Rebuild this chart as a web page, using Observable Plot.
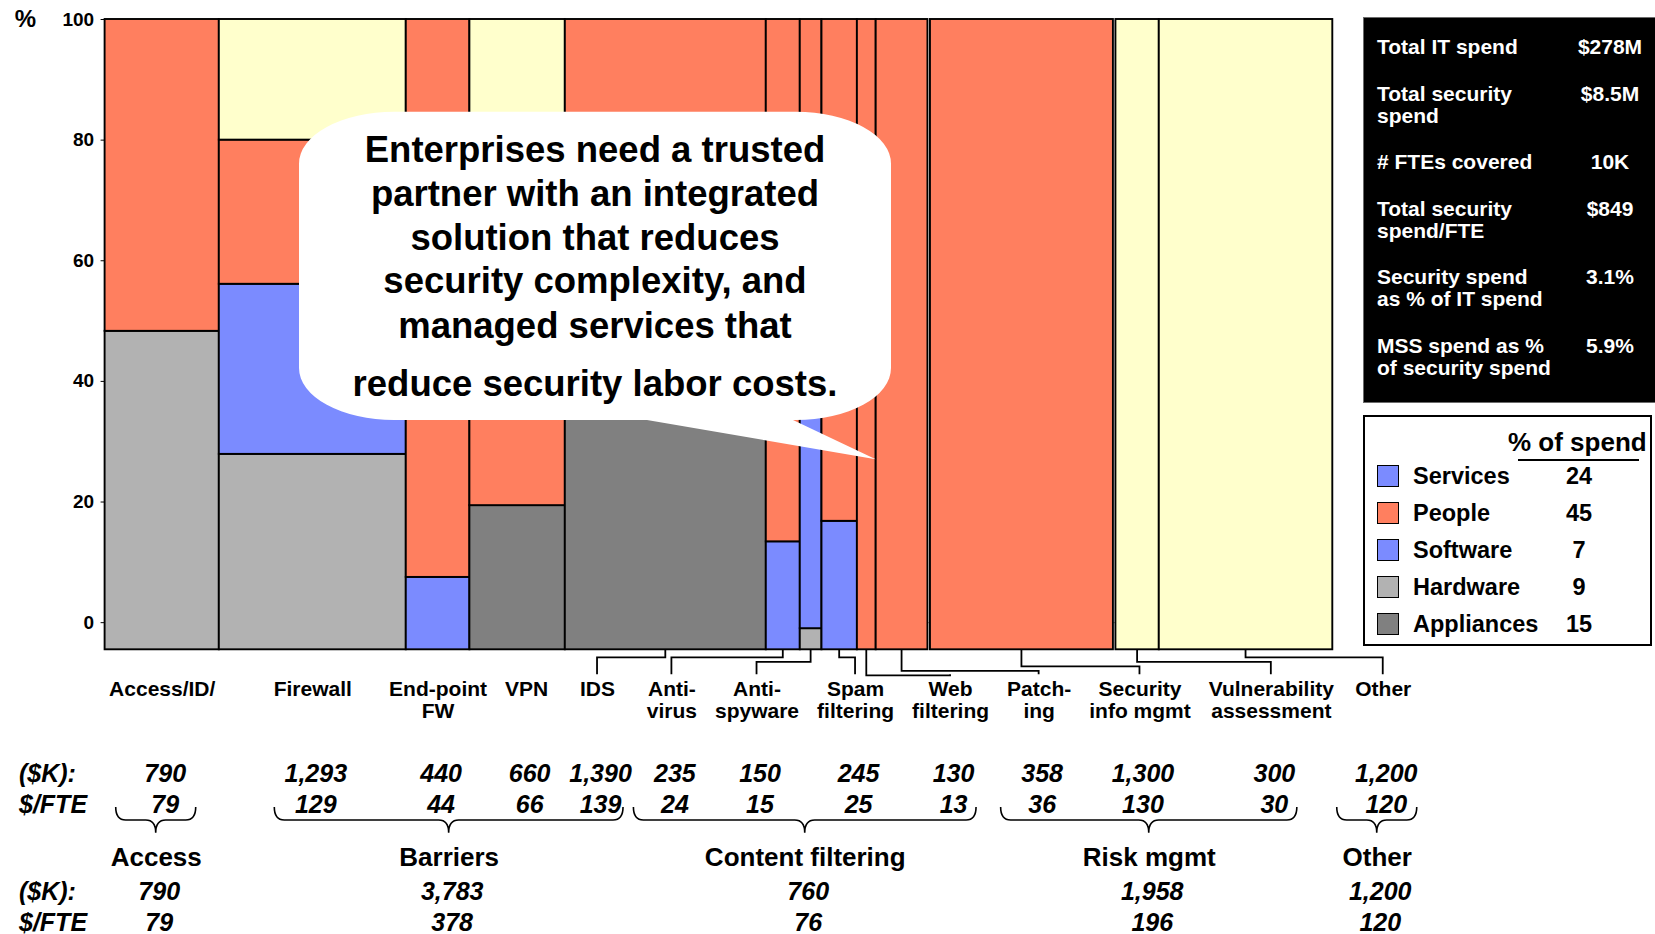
<!DOCTYPE html>
<html>
<head>
<meta charset="utf-8">
<script src="https://cdn.jsdelivr.net/npm/d3@7"></script>
<script src="https://cdn.jsdelivr.net/npm/@observablehq/plot@0.6"></script>
<style>
html, body { margin:0; padding:0; background:#fff; }
body { width:1655px; height:934px; overflow:hidden; font-family:"Liberation Sans", Arial, Helvetica, sans-serif; }
#wrap { position:relative; width:1655px; height:934px; }
#chart svg { display:block; }
#info { position:absolute; left:1363px; top:17px; width:293px; height:386px; background:#000; border:1px solid #6b6b6b; box-sizing:border-box; color:#fff; font-weight:bold; font-size:21px; padding-top:18.4px; }
#info .row { position:relative; line-height:22px; margin-bottom:24.5px; padding-left:13px; white-space:pre-line; }
#info .val { position:absolute; top:0; left:206px; width:80px; text-align:center; white-space:nowrap; }
#legend { position:absolute; left:1363px; top:415px; width:289px; height:231px; border:2px solid #000; box-sizing:border-box; background:#fff; font-weight:bold; color:#000; }
#legend .head { position:absolute; left:143px; top:10px; font-size:26px; line-height:30px; white-space:nowrap; }
#legend .rule { position:absolute; left:153px; top:42px; width:121px; height:2px; background:#000; }
#legend .items { position:absolute; left:0; top:41.4px; }
#legend .item { position:relative; height:37px; line-height:37px; font-size:23.5px; width:285px; }
#legend .sw { position:absolute; left:12px; top:7px; width:22px; height:22px; border:1.5px solid #000; box-sizing:border-box; }
#legend .nm { position:absolute; left:48px; top:0; }
#legend .pc { position:absolute; left:189px; width:50px; text-align:center; top:0; }
</style>
</head>
<body>
<div id="wrap">
  <div id="chart"></div>
  <div id="info"></div>
  <div id="legend"></div>
</div>
<script>
// ---------------- DATA ----------------
const categories = ["Access/ID/", "Firewall", "End-point\nFW", "VPN", "IDS", "Anti-\nvirus", "Anti-\nspyware",
  "Spam\nfiltering", "Web\nfiltering", "Patch-\ning", "Security\ninfo mgmt", "Vulnerability\nassessment", "Other"];
const groupOf = ["Access", "Barriers", "Barriers", "Barriers", "Barriers", "Content filtering", "Content filtering",
  "Content filtering", "Content filtering", "Risk mgmt", "Risk mgmt", "Risk mgmt", "Other"];
const spendK = [790, 1293, 440, 660, 1390, 235, 150, 245, 130, 358, 1300, 300, 1200];
const spendPerFTE = [79, 129, 44, 66, 139, 24, 15, 25, 13, 36, 130, 30, 120];

const groups = ["Access", "Barriers", "Content filtering", "Risk mgmt", "Other"];
const groupSpendK = [790, 3783, 760, 1958, 1200];
const groupPerFTE = [79, 378, 76, 196, 120];

// upper edge of each segment as read on the % axis (null = no such segment), stacked bottom→top in this order
const segmentTypes = ["Appliances", "Hardware", "Software", "People", "Services"];
const appliancesTop = [null, null, null, 19.4, 80, null, null, null, null, null, null, null, null];
const hardwareTop   = [48.3, 27.9, null, null, null, null, -1.0, null, null, null, null, null, null];
const softwareTop   = [null, 56.1, 7.5, null, null, 13.4, 65, 16.8, null, null, null, null, null];
const peopleTop     = [100, 80, 100, 80, 100, 100, 100, 100, 100, 100, 100, null, null];
const servicesTop   = [null, 100, null, 100, null, null, null, null, null, null, null, 100, 100];
const axisFloor = -4.5;               // bars start a little below the "0" tick in the original
const yTicks = [0, 20, 40, 60, 80, 100];
const segmentColors = ["#808080", "#b2b2b2", "#7b8bff", "#ff7f5f", "#ffffcc"];

const legendNames = ["Services", "People", "Software", "Hardware", "Appliances"];
const legendShare = [24, 45, 7, 9, 15];
const legendColors = ["#7b8bff", "#ff7f5f", "#7b8bff", "#b2b2b2", "#808080"];

const infoLabels = ["Total IT spend", "Total security\nspend", "# FTEs covered", "Total security\nspend/FTE",
  "Security spend\nas % of IT spend", "MSS spend as %\nof security spend"];
const infoValues = ["$278M", "$8.5M", "10K", "$849", "3.1%", "5.9%"];

const calloutLines = ["Enterprises need a trusted", "partner with an integrated", "solution that reduces",
  "security complexity, and", "managed services that", "reduce security labor costs."];
const rowHeads = ["($K):", "$/FTE"];

// ---------------- LAYOUT ----------------
const W = 1655, H = 934;
const ML = 104.6, MR = W - 1332.3, MT = 19, MB = H - 649.3;
const FF = '"Liberation Sans", Arial, Helvetica, sans-serif';
const fmt = d3.format(",");
const anchoredLabelCount = 4;   // the first labels sit right under their columns; the rest are packed with leader lines
const detachedColumn = "Security\ninfo mgmt"; // drawn with a small white gap on both sides, as in the original

const total = d3.sum(spendK);
const colEnd = d3.cumsum(spendK);
const colStart = spendK.map((v, i) => colEnd[i] - v);
const tops = {Appliances: appliancesTop, Hardware: hardwareTop, Software: softwareTop, People: peopleTop, Services: servicesTop};

const segs = [];
categories.forEach((c, i) => {
  let base = axisFloor;
  segmentTypes.forEach(t => {
    const top = tops[t][i];
    if (top == null) return;
    segs.push({cat: c, type: t, x1: colStart[i], x2: colEnd[i], y1: base, y2: top});
    base = top;
  });
});

// label placement
const xPx = d3.scaleLinear([0, total], [ML, W - MR]);
const ctx = document.createElement("canvas").getContext("2d");
function tw(text, font) { ctx.font = font; return ctx.measureText(text).width; }
const halfW = categories.map((c, i) => {
  const wl = d3.max(c.split("\n"), l => tw(l, `bold 21px ${FF}`));
  const wn = tw(fmt(spendK[i]), `italic bold 25px ${FF}`);
  return Math.max(wl, wn) / 2;
});
const centersPx = categories.map((c, i) => xPx((colStart[i] + colEnd[i]) / 2));
const GAP = 18;
const labelPx = [];
centersPx.forEach((c, i) => {
  const packed = i ? labelPx[i - 1] + halfW[i - 1] + halfW[i] + GAP : c;
  labelPx.push(i < anchoredLabelCount ? Math.max(c, packed) : packed);
});

const rows = categories.map((c, i) => {
  const [l1, l2 = ""] = c.split("\n");
  return {cat: c, lx: xPx.invert(labelPx[i]), l1, l2, k: fmt(spendK[i]), fte: String(spendPerFTE[i])};
});
const groupRows = groups.map((g, j) => {
  const idx = d3.range(categories.length).filter(i => groupOf[i] === g);
  let a = d3.min(idx, i => labelPx[i]) - 38, b = d3.max(idx, i => labelPx[i]) + 26;
  if (b - a < 80) { const m = (a + b) / 2; a = m - 40; b = m + 40; }
  return {g, a: xPx.invert(a), b: xPx.invert(b), m: xPx.invert((a + b) / 2), k: fmt(groupSpendK[j]), fte: String(groupPerFTE[j])};
});

// ---------------- PLOT ----------------
const hasAxisMarks = typeof Plot.axisY === "function";
const bold = {fontWeight: "bold"};
const below = {frameAnchor: "bottom", lineAnchor: "top"};
const italicNum = {fontSize: 25, fontWeight: "bold", fontStyle: "italic"};
const rectOpts = {x1: "x1", x2: "x2", y1: "y1", y2: "y2", fill: "type", stroke: "black", strokeWidth: 1.9};

const marks = [
  Plot.ruleY([0], {stroke: "#9a9a9a", strokeWidth: 1}),
  Plot.rect(segs.filter(d => d.cat !== detachedColumn), rectOpts),
  Plot.rect(segs.filter(d => d.cat === detachedColumn), {...rectOpts, insetLeft: 2.5, insetRight: 2.5}),
  Plot.text(["%"], {frameAnchor: "top-left", dx: 25 - ML, fontSize: 24, ...bold, textAnchor: "middle", lineAnchor: "middle"}),
  Plot.text(rows, {...below, x: "lx", text: "l1", dy: 30.8, fontSize: 21, ...bold}),
  Plot.text(rows.filter(d => d.l2), {...below, x: "lx", text: "l2", dy: 52.8, fontSize: 21, ...bold}),
  Plot.text(rows, {...below, x: "lx", text: "k", dx: 3, dy: 114.7, ...italicNum}),
  Plot.text(rows, {...below, x: "lx", text: "fte", dx: 3, dy: 145.6, ...italicNum}),
  Plot.text([rowHeads[0]], {frameAnchor: "bottom-left", lineAnchor: "top", textAnchor: "start", dx: 18.5 - ML, dy: 114.7, ...italicNum}),
  Plot.text([rowHeads[1]], {frameAnchor: "bottom-left", lineAnchor: "top", textAnchor: "start", dx: 18.5 - ML, dy: 145.6, ...italicNum}),
  Plot.text(groupRows, {...below, x: "m", text: "g", dy: 198.2, fontSize: 26, ...bold}),
  Plot.text(groupRows, {...below, x: "m", text: "k", dx: 3, dy: 232.6, ...italicNum}),
  Plot.text(groupRows, {...below, x: "m", text: "fte", dx: 3, dy: 263.4, ...italicNum}),
  Plot.text([rowHeads[0]], {frameAnchor: "bottom-left", lineAnchor: "top", textAnchor: "start", dx: 18.5 - ML, dy: 232.6, ...italicNum}),
  Plot.text([rowHeads[1]], {frameAnchor: "bottom-left", lineAnchor: "top", textAnchor: "start", dx: 18.5 - ML, dy: 263.4, ...italicNum})
];
if (hasAxisMarks) marks.push(Plot.axisY(yTicks, {tickSize: 4, tickPadding: 7, fontSize: 19, fontWeight: "bold", label: null}));

const plot = Plot.plot({
  width: W, height: H,
  marginLeft: ML, marginRight: MR, marginTop: MT, marginBottom: MB,
  style: {fontFamily: FF, fontSize: "19px", fontWeight: "bold", background: "transparent", overflow: "visible"},
  x: {domain: [0, total], axis: null},
  y: hasAxisMarks ? {domain: [axisFloor, 100]} : {domain: [axisFloor, 100], ticks: yTicks, tickSize: 4, tickPadding: 7, label: null},
  color: {domain: segmentTypes, range: segmentColors},
  marks
});
document.getElementById("chart").appendChild(plot);

// ---------- leader lines, braces and callout drawn with the plot's own scales ----------
const svg = d3.select(plot);
const sx = plot.scale("x"), sy = plot.scale("y");
const X = d3.scaleLinear(sx.domain, sx.range), Y = d3.scaleLinear(sy.domain, sy.range);
const bottom = Y(axisFloor);

const conn = [];
categories.forEach((c, i) => {
  if (i < anchoredLabelCount) return;
  conn.push({i, cx: X((colStart[i] + colEnd[i]) / 2), lx: X(rows[i].lx)});
});
function assignLevels(list) {
  const placed = [];
  list.forEach(d => {
    const lo = Math.min(d.cx, d.lx), hi = Math.max(d.cx, d.lx);
    const over = placed.filter(p => p.lo < hi + 3 && lo < p.hi + 3);
    d.lev = over.length ? d3.max(over, p => p.lev) + 1 : 0;
    placed.push({lo, hi, lev: d.lev});
  });
}
assignLevels(conn.filter(d => d.lx < d.cx).sort((a, b) => a.cx - b.cx));
assignLevels(conn.filter(d => d.lx >= d.cx).sort((a, b) => b.cx - a.cx));
svg.append("g").attr("fill", "none").attr("stroke", "black").attr("stroke-width", 1.8)
  .selectAll("path").data(conn).join("path")
  .attr("d", d => {
    const yh = bottom + 8 + 4.5 * d.lev;
    return Math.abs(d.lx - d.cx) < 3 ? `M${d.cx},${bottom}V${bottom + 25}` : `M${d.cx},${bottom}V${yh}H${d.lx}V${bottom + 25}`;
  });

svg.append("g").attr("fill", "none").attr("stroke", "black").attr("stroke-width", 1.6)
  .selectAll("path").data(groupRows).join("path")
  .attr("d", g => {
    const a = X(g.a), b = X(g.b), m = X(g.m);
    const y0 = bottom + 157.7, y1 = bottom + 170.7, y2 = bottom + 183.5;
    return `M${a},${y0}Q${a},${y1} ${a + 10},${y1}L${m - 10},${y1}Q${m},${y1} ${m},${y2}` +
           `Q${m},${y1} ${m + 10},${y1}L${b - 10},${y1}Q${b},${y1} ${b},${y0}`;
  });

// callout bubble pointing at the Web filtering / Patching boundary
const bx0 = 299, bx1 = 891, by0 = 111.7, by1 = 420, rx = 95, ry = 52;
const tipX = X(colEnd[8]), tipY = Y(27);
const callout = svg.append("g");
callout.append("path").attr("fill", "white").attr("stroke", "none").attr("d",
  `M${bx0 + rx},${by0}H${bx1 - rx}A${rx},${ry} 0 0 1 ${bx1},${by0 + ry}V${by1 - ry}A${rx},${ry} 0 0 1 ${bx1 - rx},${by1}` +
  `H793L${tipX},${tipY}L647,${by1}H${bx0 + rx}A${rx},${ry} 0 0 1 ${bx0},${by1 - ry}V${by0 + ry}A${rx},${ry} 0 0 1 ${bx0 + rx},${by0}Z`);
const baselines = [162, 206, 249.5, 293, 337.5, 396];
callout.append("g").attr("text-anchor", "middle").attr("font-size", 36.5).attr("font-weight", "bold").attr("fill", "black")
  .selectAll("text").data(calloutLines).join("text")
  .attr("x", (bx0 + bx1) / 2).attr("y", (d, i) => baselines[i]).text(d => d);

// ---------------- INFO BOX & LEGEND ----------------
const info = d3.select("#info");
infoLabels.forEach((l, i) => {
  const r = info.append("div").attr("class", "row").text(l);
  r.append("div").attr("class", "val").text(infoValues[i]);
});
const lg = d3.select("#legend");
lg.append("div").attr("class", "head").text("% of spend");
lg.append("div").attr("class", "rule");
const items = lg.append("div").attr("class", "items");
legendNames.forEach((n, i) => {
  const it = items.append("div").attr("class", "item");
  it.append("div").attr("class", "sw").style("background", legendColors[i]);
  it.append("div").attr("class", "nm").text(n);
  it.append("div").attr("class", "pc").text(legendShare[i]);
});
</script>
</body>
</html>
